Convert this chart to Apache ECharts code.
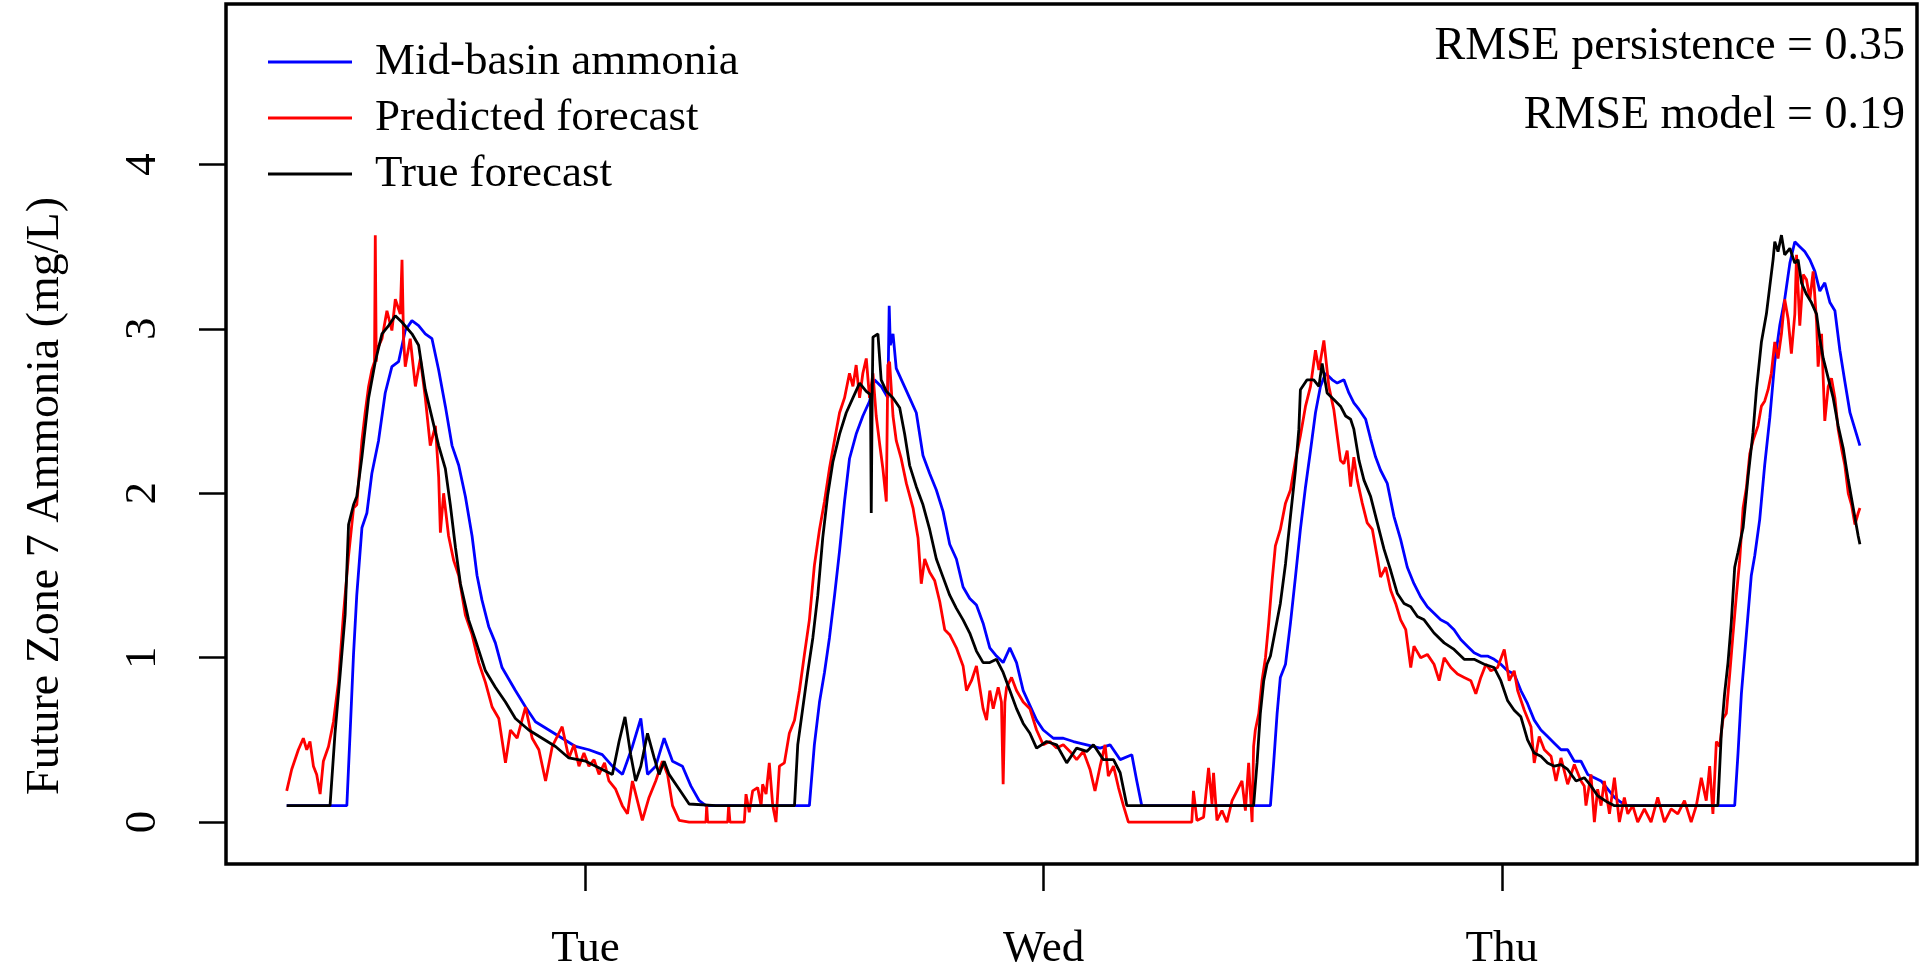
<!DOCTYPE html>
<html>
<head>
<meta charset="utf-8">
<script src="https://cdn.jsdelivr.net/npm/echarts@6/dist/echarts.min.js"></script>
<style>
html,body{margin:0;padding:0;background:#fff;}
#chart{width:1920px;height:980px;}
</style>
</head>
<body>
<div id="chart"></div>
<script>
// ---- data (x = hours since Monday 00:00, y = ammonia mg/L) ----
const dayTickHours = [24, 48, 72];
const dayTickLabels = ['Tue', 'Wed', 'Thu'];
const yTickValues = [0, 1, 2, 3, 4];
const seriesNames = ['Mid-basin ammonia', 'Predicted forecast', 'True forecast'];
const rmseLines = ['RMSE persistence = 0.35', 'RMSE model = 0.19'];

const midBasin = [[8.35,0.10],[11.50,0.10],[11.67,0.54],[11.85,1.02],[12.02,1.38],[12.29,1.79],[12.55,1.88],[12.81,2.12],[13.16,2.32],[13.51,2.61],[13.86,2.77],[14.21,2.80],[14.56,2.99],[14.91,3.05],[15.26,3.02],[15.61,2.97],[15.96,2.94],[16.31,2.75],[16.66,2.53],[17.01,2.29],[17.36,2.17],[17.71,1.98],[18.06,1.74],[18.32,1.50],[18.58,1.35],[18.93,1.19],[19.28,1.09],[19.63,0.94],[19.98,0.87],[20.33,0.80],[20.86,0.70],[21.38,0.61],[22.08,0.56],[22.78,0.51],[23.48,0.46],[24.18,0.44],[24.88,0.41],[25.41,0.34],[25.94,0.29],[26.46,0.46],[26.90,0.63],[27.25,0.29],[27.68,0.34],[28.12,0.51],[28.56,0.37],[29.08,0.34],[29.52,0.22],[29.96,0.13],[30.31,0.10],[35.73,0.10],[35.99,0.47],[36.26,0.73],[36.52,0.91],[36.78,1.12],[37.05,1.38],[37.31,1.65],[37.57,1.95],[37.83,2.21],[38.18,2.36],[38.53,2.47],[38.88,2.56],[39.14,2.69],[39.49,2.65],[39.84,2.58],[39.91,3.14],[39.97,2.90],[40.11,2.97],[40.28,2.76],[40.63,2.67],[40.98,2.58],[41.33,2.49],[41.68,2.23],[42.03,2.12],[42.38,2.02],[42.73,1.89],[43.08,1.69],[43.43,1.60],[43.78,1.43],[44.13,1.36],[44.48,1.32],[44.83,1.21],[45.18,1.06],[45.53,1.01],[45.88,0.97],[46.23,1.06],[46.58,0.97],[46.93,0.80],[47.28,0.71],[47.63,0.62],[47.98,0.56],[48.51,0.51],[49.03,0.51],[49.56,0.49],[50.26,0.47],[50.96,0.45],[51.48,0.47],[52.01,0.38],[52.62,0.41],[52.88,0.25],[53.14,0.10],[59.88,0.10],[60.05,0.36],[60.23,0.66],[60.40,0.88],[60.67,0.96],[60.93,1.21],[61.19,1.49],[61.45,1.78],[61.72,2.04],[61.98,2.26],[62.24,2.49],[62.50,2.65],[62.77,2.73],[63.12,2.69],[63.38,2.67],[63.73,2.69],[63.99,2.61],[64.25,2.55],[64.52,2.51],[64.87,2.45],[65.13,2.33],[65.39,2.22],[65.65,2.14],[66.00,2.06],[66.35,1.86],[66.70,1.72],[67.05,1.55],[67.40,1.45],[67.75,1.37],[68.10,1.31],[68.45,1.27],[68.80,1.23],[69.15,1.21],[69.50,1.17],[69.85,1.11],[70.20,1.07],[70.55,1.03],[70.90,1.01],[71.25,1.01],[71.60,0.99],[71.95,0.96],[72.30,0.92],[72.65,0.90],[73.00,0.80],[73.35,0.72],[73.70,0.62],[74.05,0.56],[74.40,0.52],[74.75,0.48],[75.10,0.44],[75.45,0.44],[75.80,0.37],[76.15,0.37],[76.50,0.29],[76.85,0.27],[77.20,0.25],[77.55,0.20],[77.90,0.15],[78.25,0.12],[78.60,0.10],[84.20,0.10],[84.37,0.41],[84.55,0.78],[84.81,1.14],[85.07,1.50],[85.25,1.62],[85.51,1.84],[85.77,2.17],[86.04,2.46],[86.30,2.80],[86.56,3.02],[86.82,3.18],[87.09,3.40],[87.35,3.53],[87.61,3.50],[87.87,3.47],[88.14,3.42],[88.40,3.35],[88.66,3.23],[88.92,3.28],[89.19,3.16],[89.45,3.11],[89.71,2.87],[89.97,2.68],[90.24,2.49],[90.50,2.39],[90.76,2.29]];

const predictedForecast = [[8.35,0.19],[8.61,0.32],[8.96,0.44],[9.22,0.51],[9.40,0.44],[9.57,0.49],[9.75,0.34],[9.92,0.29],[10.10,0.17],[10.27,0.37],[10.54,0.46],[10.80,0.61],[11.06,0.85],[11.32,1.26],[11.59,1.62],[11.85,1.91],[12.02,1.93],[12.29,2.32],[12.46,2.49],[12.64,2.65],[12.81,2.75],[12.95,2.80],[12.99,3.57],[13.04,2.80],[13.07,2.87],[13.34,2.94],[13.60,3.11],[13.86,2.99],[14.04,3.18],[14.30,3.09],[14.39,3.42],[14.47,2.94],[14.56,2.77],[14.82,2.94],[15.09,2.65],[15.35,2.82],[15.61,2.58],[15.87,2.29],[16.14,2.41],[16.31,2.10],[16.40,1.76],[16.57,2.00],[16.83,1.74],[17.10,1.59],[17.36,1.50],[17.71,1.26],[18.06,1.14],[18.41,0.97],[18.76,0.85],[19.11,0.70],[19.46,0.63],[19.81,0.36],[20.07,0.56],[20.42,0.51],[20.86,0.70],[21.21,0.51],[21.56,0.44],[21.91,0.25],[22.26,0.46],[22.78,0.58],[23.13,0.39],[23.40,0.47],[23.66,0.34],[23.92,0.42],[24.18,0.34],[24.45,0.38],[24.71,0.29],[25.00,0.36],[25.23,0.25],[25.58,0.20],[25.93,0.10],[26.20,0.05],[26.46,0.25],[26.72,0.13],[26.98,0.01],[27.33,0.15],[27.68,0.25],[28.03,0.37],[28.30,0.29],[28.56,0.10],[28.91,0.01],[29.43,0.00],[30.31,0.00],[30.35,0.10],[30.40,0.00],[31.45,0.00],[31.50,0.10],[31.57,0.00],[32.32,0.00],[32.41,0.17],[32.58,0.06],[32.76,0.19],[33.02,0.21],[33.20,0.10],[33.28,0.23],[33.46,0.17],[33.63,0.36],[33.81,0.10],[33.98,0.00],[34.16,0.34],[34.42,0.36],[34.68,0.54],[34.95,0.62],[35.21,0.80],[35.47,1.02],[35.73,1.23],[35.99,1.56],[36.26,1.78],[36.52,1.95],[36.78,2.15],[37.04,2.32],[37.31,2.49],[37.57,2.58],[37.83,2.73],[38.01,2.65],[38.18,2.78],[38.36,2.58],[38.53,2.73],[38.71,2.82],[38.88,2.58],[39.06,2.73],[39.23,2.47],[39.41,2.30],[39.58,2.15],[39.76,1.95],[39.84,2.78],[39.93,2.80],[40.11,2.47],[40.28,2.32],[40.54,2.21],[40.81,2.06],[41.16,1.91],[41.42,1.73],[41.59,1.45],[41.77,1.60],[42.03,1.52],[42.29,1.47],[42.56,1.34],[42.82,1.17],[43.08,1.14],[43.43,1.06],[43.78,0.95],[43.96,0.80],[44.22,0.86],[44.48,0.95],[44.83,0.69],[45.01,0.62],[45.18,0.80],[45.36,0.69],[45.62,0.82],[45.79,0.73],[45.88,0.23],[45.97,0.73],[46.06,0.82],[46.32,0.88],[46.58,0.80],[46.93,0.73],[47.28,0.69],[47.63,0.56],[47.98,0.47],[48.33,0.49],[48.68,0.45],[49.03,0.47],[49.38,0.43],[49.73,0.38],[50.08,0.43],[50.43,0.32],[50.69,0.19],[50.96,0.34],[51.22,0.47],[51.39,0.28],[51.66,0.34],[51.92,0.21],[52.18,0.10],[52.44,0.00],[55.76,0.00],[55.85,0.19],[56.03,0.01],[56.38,0.03],[56.64,0.33],[56.82,0.11],[56.90,0.30],[57.08,0.01],[57.34,0.07],[57.60,0.00],[57.87,0.13],[58.13,0.19],[58.39,0.25],[58.57,0.07],[58.74,0.36],[58.92,0.00],[59.00,0.46],[59.09,0.56],[59.27,0.66],[59.44,0.86],[59.62,1.00],[59.79,1.21],[59.97,1.47],[60.14,1.68],[60.40,1.78],[60.67,1.94],[60.93,2.02],[61.19,2.20],[61.45,2.35],[61.72,2.53],[61.98,2.65],[62.24,2.87],[62.42,2.75],[62.68,2.93],[62.94,2.65],[63.20,2.51],[63.38,2.35],[63.55,2.20],[63.73,2.18],[63.90,2.26],[64.08,2.04],[64.25,2.22],[64.43,2.08],[64.69,1.94],[64.95,1.82],[65.22,1.78],[65.48,1.61],[65.65,1.49],[65.92,1.55],[66.18,1.41],[66.44,1.33],[66.70,1.23],[66.97,1.17],[67.23,0.94],[67.40,1.07],[67.75,1.00],[68.10,1.02],[68.45,0.96],[68.72,0.86],[68.98,1.00],[69.33,0.94],[69.68,0.90],[70.03,0.88],[70.38,0.86],[70.64,0.78],[70.90,0.88],[71.17,0.96],[71.43,0.92],[71.78,0.94],[72.13,1.05],[72.39,0.86],[72.65,0.92],[72.83,0.80],[73.18,0.68],[73.53,0.58],[73.70,0.36],[73.96,0.52],[74.23,0.44],[74.58,0.40],[74.84,0.25],[75.10,0.39],[75.45,0.23],[75.80,0.35],[76.15,0.25],[76.32,0.22],[76.41,0.10],[76.67,0.29],[76.85,0.00],[77.02,0.20],[77.20,0.10],[77.37,0.25],[77.64,0.05],[77.90,0.27],[78.16,0.00],[78.42,0.15],[78.60,0.05],[78.86,0.10],[79.12,0.00],[79.47,0.08],[79.82,0.00],[80.17,0.15],[80.52,0.00],[80.87,0.08],[81.22,0.05],[81.57,0.13],[81.92,0.00],[82.19,0.10],[82.45,0.27],[82.71,0.13],[82.89,0.34],[83.06,0.05],[83.24,0.49],[83.41,0.46],[83.59,0.63],[83.76,0.66],[83.94,0.90],[84.11,1.14],[84.29,1.38],[84.46,1.59],[84.64,1.91],[84.81,2.03],[84.99,2.24],[85.16,2.32],[85.42,2.41],[85.60,2.53],[85.77,2.56],[85.95,2.63],[86.12,2.73],[86.30,2.92],[86.47,2.82],[86.65,2.97],[86.82,3.18],[87.00,3.06],[87.17,2.85],[87.35,3.09],[87.44,3.45],[87.61,3.02],[87.79,3.33],[87.96,3.30],[88.14,3.18],[88.31,3.35],[88.49,3.04],[88.57,2.77],[88.75,2.97],[88.92,2.44],[89.10,2.65],[89.27,2.70],[89.45,2.58],[89.62,2.39],[89.80,2.27],[89.97,2.17],[90.15,2.00],[90.32,1.93],[90.50,1.81],[90.67,1.88],[90.76,1.91]];

const trueForecast = [[8.35,0.10],[10.62,0.10],[10.88,0.54],[11.15,0.90],[11.41,1.26],[11.59,1.81],[11.85,1.93],[12.02,1.98],[12.29,2.22],[12.64,2.58],[12.99,2.80],[13.34,2.97],[13.69,3.02],[14.04,3.08],[14.39,3.04],[14.91,2.97],[15.26,2.90],[15.61,2.63],[15.96,2.46],[16.31,2.29],[16.66,2.15],[16.92,1.93],[17.19,1.67],[17.45,1.45],[17.88,1.23],[18.23,1.11],[18.76,0.92],[19.28,0.82],[19.81,0.73],[20.33,0.63],[21.03,0.56],[21.73,0.51],[22.43,0.46],[23.13,0.39],[24.01,0.37],[24.88,0.32],[25.41,0.29],[25.76,0.49],[26.07,0.64],[26.37,0.41],[26.63,0.25],[26.90,0.34],[27.25,0.54],[27.60,0.39],[27.86,0.29],[28.12,0.37],[28.38,0.29],[28.91,0.20],[29.43,0.11],[30.83,0.10],[34.95,0.10],[35.12,0.47],[35.38,0.69],[35.64,0.91],[35.91,1.12],[36.17,1.38],[36.43,1.73],[36.69,1.99],[36.96,2.19],[37.31,2.36],[37.66,2.49],[38.01,2.58],[38.36,2.67],[38.71,2.62],[38.93,2.60],[38.97,1.88],[39.02,2.60],[39.06,2.95],[39.32,2.97],[39.49,2.69],[39.76,2.62],[40.11,2.58],[40.46,2.52],[40.72,2.36],[40.98,2.17],[41.33,2.04],[41.68,1.93],[42.03,1.78],[42.38,1.60],[42.73,1.49],[43.08,1.38],[43.43,1.30],[43.78,1.23],[44.13,1.15],[44.48,1.04],[44.83,0.97],[45.18,0.97],[45.53,0.99],[45.88,0.91],[46.23,0.80],[46.58,0.69],[46.93,0.60],[47.28,0.54],[47.63,0.45],[48.16,0.49],[48.68,0.47],[49.21,0.36],[49.73,0.45],[50.26,0.43],[50.61,0.47],[51.13,0.38],[51.66,0.38],[52.01,0.30],[52.36,0.10],[59.00,0.10],[59.18,0.36],[59.35,0.66],[59.53,0.86],[59.70,0.96],[59.88,1.01],[60.14,1.17],[60.40,1.33],[60.67,1.57],[60.93,1.86],[61.19,2.14],[61.37,2.39],[61.45,2.63],[61.80,2.69],[62.15,2.69],[62.42,2.65],[62.59,2.79],[62.85,2.61],[63.20,2.57],[63.55,2.53],[63.82,2.47],[64.08,2.45],[64.25,2.39],[64.52,2.20],[64.78,2.08],[65.13,1.98],[65.48,1.82],[65.83,1.66],[66.18,1.53],[66.53,1.39],[66.88,1.33],[67.23,1.31],[67.58,1.25],[67.93,1.23],[68.45,1.15],[68.98,1.09],[69.50,1.05],[70.03,0.99],[70.55,0.99],[71.08,0.96],[71.60,0.94],[71.95,0.86],[72.30,0.74],[72.65,0.68],[73.00,0.64],[73.35,0.50],[73.70,0.42],[74.05,0.40],[74.40,0.36],[74.75,0.34],[75.10,0.35],[75.45,0.32],[75.89,0.25],[76.32,0.27],[76.67,0.22],[77.02,0.16],[77.55,0.12],[77.90,0.10],[83.32,0.10],[83.50,0.54],[83.67,0.78],[83.85,0.97],[84.02,1.21],[84.20,1.55],[84.37,1.64],[84.64,1.79],[84.90,2.10],[85.16,2.37],[85.34,2.63],[85.60,2.92],[85.86,3.09],[86.04,3.26],[86.21,3.42],[86.30,3.53],[86.47,3.47],[86.65,3.57],[86.82,3.45],[87.09,3.49],[87.35,3.40],[87.52,3.42],[87.70,3.28],[87.96,3.21],[88.22,3.16],[88.49,3.09],[88.66,2.94],[88.84,2.82],[89.10,2.70],[89.36,2.58],[89.62,2.41],[89.89,2.27],[90.15,2.08],[90.41,1.91],[90.67,1.74],[90.76,1.69]];

const seriesColors = ['#0000ff', '#ff0000', '#000000'];
const seriesData = [midBasin, predictedForecast, trueForecast];

const FONT = "'Liberation Serif', 'Times New Roman', 'DejaVu Serif', serif";
const rmseTextStyle = {fontFamily: FONT, fontSize: 46, fontWeight: 'normal', color: '#000'};

const chart = echarts.init(document.getElementById('chart'), null, {renderer: 'canvas'});
chart.setOption({
  animation: false,
  backgroundColor: '#ffffff',
  title: [
    {text: rmseLines[0], right: 15, top: 24, padding: 0, textStyle: rmseTextStyle},
    {text: rmseLines[1], right: 15, top: 93, padding: 0, textStyle: rmseTextStyle}
  ],
  legend: {
    orient: 'vertical',
    left: 268,
    top: 34,
    padding: 0,
    itemGap: 0,
    itemWidth: 84,
    itemHeight: 3,
    icon: 'rect',
    selectedMode: false,
    data: seriesNames,
    textStyle: {fontFamily: FONT, fontSize: 45, color: '#000', lineHeight: 56, padding: [0, 0, 0, 18]}
  },
  grid: {
    left: 226, right: 3, top: 4, bottom: 116,
    show: true, borderColor: '#000', borderWidth: 3.5, backgroundColor: 'transparent'
  },
  xAxis: {
    type: 'value',
    min: 5.17,
    max: 93.75,
    axisLine: {show: false, onZero: false},
    splitLine: {show: false},
    axisTick: {show: true, length: 27, customValues: dayTickHours, lineStyle: {color: '#000', width: 2.5}},
    axisLabel: {
      show: true, customValues: dayTickHours, margin: 63,
      fontFamily: FONT, fontSize: 45, color: '#000',
      formatter: function (v) { const i = dayTickHours.indexOf(v); return i >= 0 ? dayTickLabels[i] : ''; }
    }
  },
  yAxis: {
    type: 'value',
    min: -0.255,
    max: 4.976,
    axisLine: {show: false, onZero: false},
    splitLine: {show: false},
    axisTick: {show: true, length: 27, customValues: yTickValues, lineStyle: {color: '#000', width: 2.5}},
    axisLabel: {
      show: true, customValues: yTickValues, rotate: 90, margin: 60,
      fontFamily: FONT, fontSize: 45, color: '#000',
      formatter: function (v) { return String(v); }
    },
    name: 'Future Zone 7 Ammonia (mg/L)',
    nameLocation: 'middle',
    nameRotate: 90,
    nameGap: 157,
    nameTextStyle: {fontFamily: FONT, fontSize: 46, color: '#000', padding: [0, 124, 0, 0]}
  },
  series: seriesNames.map(function (name, i) {
    return {
      name: name,
      type: 'line',
      data: seriesData[i],
      showSymbol: false,
      symbol: 'none',
      silent: true,
      itemStyle: {color: seriesColors[i]},
      lineStyle: {color: seriesColors[i], width: 2.8},
      z: 2 + i
    };
  })
});
</script>
</body>
</html>
